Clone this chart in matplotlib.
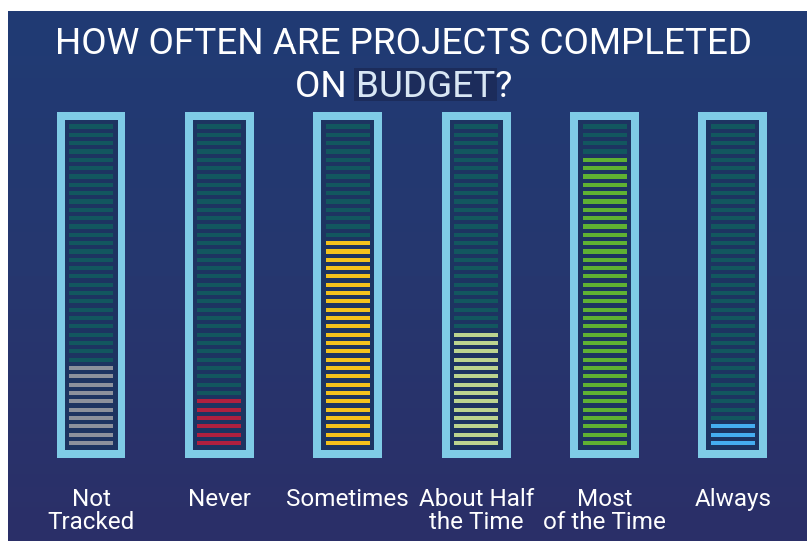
import numpy as np
import matplotlib.pyplot as plt
from matplotlib.colors import LinearSegmentedColormap
from matplotlib.patches import Rectangle

# survey answers and how many of the 39 segments each one lights up
labels = ['Not\nTracked', 'Never', 'Sometimes', 'About Half\nthe Time', 'Most\nof the Time', 'Always']
lit = [10, 6, 25, 14, 35, 3]
colors = ['#8c919c', '#b0203f', '#f5c21b', '#bcd58f', '#5fb232', '#45aef0']
n_seg = 39

plt.rcParams['font.family'] = ['Roboto', 'DejaVu Sans']

W, H = 807, 541
fig = plt.figure(figsize=(W / 100, H / 100), dpi=100, facecolor='white')

# navy backdrop, a little inset from the top/left edges
bg = fig.add_axes([8 / W, 0, 799 / W, 530 / H])
bg.axis('off')
grad = LinearSegmentedColormap.from_list('bg', ['#203b74', '#26376f', '#2b2f68'])
bg.imshow(np.linspace(0, 1, 256).reshape(-1, 1), aspect='auto', cmap=grad,
          extent=[0, 1, 0, 1])
bg.set_xlim(0, 1)
bg.set_ylim(0, 1)

# x in category slots, y in segment units
ax = fig.add_axes([0, 0, 1, 1])
ax.patch.set_alpha(0)
ax.axis('off')
ax.set_xlim(-0.709, 5.577)
ax.set_ylim(-11.76, 53.18)

x = np.arange(len(labels))
# cyan frame and dark well
ax.bar(x, 41.5, bottom=-1.8, width=0.537, color='#7fcbe6', zorder=1)
ax.bar(x, 39.6, bottom=-0.84, width=0.413, color='#1d3461', zorder=2)

for i in range(len(labels)):
    seg = np.arange(n_seg)
    seg_colors = [colors[i] if s < lit[i] else '#12575f' for s in seg]
    ax.barh(seg, 0.343, left=i - 0.1715, height=0.5, color=seg_colors, zorder=3)
    ax.text(i, 1 - 488 / H, labels[i], transform=ax.get_xaxis_transform(),
            ha='center', va='top', color='white', fontsize=17.5, linespacing=0.98)

# two-line title, "BUDGET" sits on a darker highlight
fs = 26.6
fig.text(0.5, 1 - 54 / H, 'HOW OFTEN ARE PROJECTS COMPLETED', ha='center', va='baseline',
         color='white', fontsize=fs)
r = fig.canvas.get_renderer()
probe = fig.text(0, 0, 'ON ', fontsize=fs)
w_on = probe.get_window_extent(r).width
probe.set_text('ON BUDGET')
w_onb = probe.get_window_extent(r).width
probe.set_text('ON BUDGET?')
w_all = probe.get_window_extent(r).width
probe.remove()

left = W / 2 - w_all / 2
base = 1 - 97 / H
fig.text(left / W, base, 'ON ', ha='left', va='baseline', color='white', fontsize=fs)
fig.text((left + w_on) / W, base, 'BUDGET', ha='left', va='baseline',
         color='#d8e6f4', fontsize=fs, zorder=4)
fig.text((left + w_onb) / W, base, '?', ha='left', va='baseline', color='white', fontsize=fs)
fig.patches.append(Rectangle(((left + w_on - 2) / W, 1 - 101 / H), (w_onb - w_on + 4) / W, 33 / H,
                             transform=fig.transFigure, fc='#1c2c5b', ec='none', zorder=2))

fig.savefig('out.png', dpi=100, facecolor='white')
